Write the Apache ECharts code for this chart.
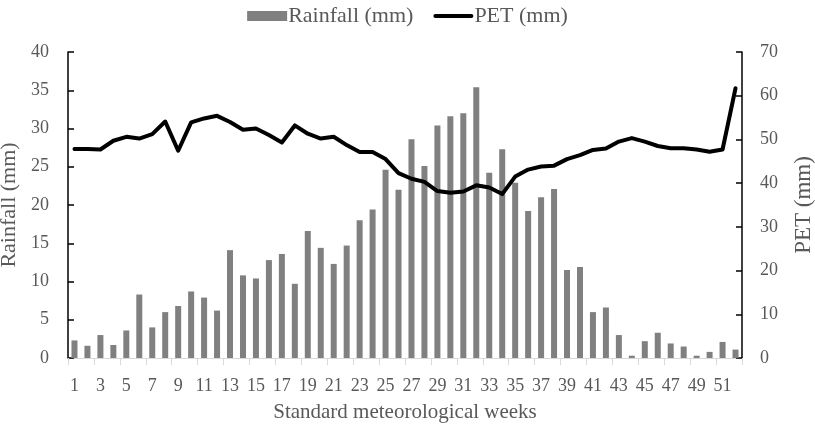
<!DOCTYPE html>
<html>
<head>
<meta charset="utf-8">
<script src="https://cdn.jsdelivr.net/npm/echarts@6/dist/echarts.min.js"></script>
<style>
  html, body { margin: 0; padding: 0; background: #fff; }
  #chart { width: 815px; height: 428px; }
</style>
</head>
<body>
<div id="chart"></div>
<script>
// standard meteorological weeks 1..52
var weeks = [];
for (var w = 1; w <= 52; w++) weeks.push(String(w));

// weekly rainfall (mm)
var rainfall = [
  2.3, 1.6, 3.0, 1.7, 3.6, 8.3, 4.0, 6.0, 6.8, 8.7,
  7.9, 6.2, 14.1, 10.8, 10.4, 12.8, 13.6, 9.7, 16.6, 14.4,
  12.3, 14.7, 18.0, 19.4, 24.6, 22.0, 28.6, 25.1, 30.4, 31.6,
  32.0, 35.4, 24.2, 27.3, 22.9, 19.2, 21.0, 22.1, 11.5, 11.9,
  6.0, 6.6, 3.0, 0.3, 2.2, 3.3, 1.9, 1.5, 0.3, 0.8,
  2.1, 1.1
];

// weekly PET (mm)
var pet = [
  47.8, 47.8, 47.7, 49.7, 50.6, 50.2, 51.2, 54.1, 47.4, 53.9,
  54.8, 55.4, 54.0, 52.2, 52.5, 51.0, 49.3, 53.2, 51.3, 50.2,
  50.6, 48.7, 47.1, 47.1, 45.5, 42.3, 41.0, 40.3, 38.2, 37.8,
  38.1, 39.5, 39.0, 37.5, 41.5, 43.1, 43.8, 44.0, 45.5, 46.4,
  47.6, 47.9, 49.5, 50.3, 49.5, 48.5, 48.0, 48.0, 47.7, 47.2,
  47.7, 61.7
];

var font = 'Liberation Serif';
var txt = '#595959';

var myChart = echarts.init(document.getElementById('chart'));
myChart.setOption({
  animation: false,
  textStyle: { fontFamily: font },
  legend: {
    top: 0,
    left: 'center',
    itemGap: 20,
    itemWidth: 40,
    itemHeight: 10,
    textStyle: { fontFamily: font, fontSize: 22, color: txt, padding: [0, 0, 0, -4] },
    data: [
      { name: 'Rainfall (mm)', icon: 'rect' },
      { name: 'PET (mm)', icon: 'path://M2,0 H38 A2,2 0 0 1 38,4 H2 A2,2 0 0 1 2,0 Z' }
    ]
  },
  grid: { left: 68, right: 73, top: 52, bottom: 70, outerBoundsMode: 'none' },
  xAxis: {
    type: 'category',
    data: weeks,
    name: 'Standard meteorological weeks',
    nameLocation: 'middle',
    nameGap: 44,
    nameTextStyle: { fontFamily: font, fontSize: 21, color: txt },
    axisLine: { lineStyle: { color: '#d9d9d9', width: 1 } },
    axisTick: { show: true, length: 7, lineStyle: { color: '#d9d9d9' } },
    axisLabel: { interval: 1, color: txt, fontSize: 18, fontFamily: font, margin: 19 }
  },
  yAxis: [
    {
      type: 'value',
      min: 0, max: 40, interval: 5,
      name: 'Rainfall (mm)',
      nameLocation: 'middle',
      nameGap: 46,
      nameTextStyle: { fontFamily: font, fontSize: 22, color: txt },
      axisLine: { show: true, lineStyle: { color: '#000', width: 1.5 } },
      axisTick: { show: true, inside: true, length: 6, lineStyle: { color: '#000', width: 1.5 } },
      axisLabel: { color: txt, fontSize: 18, fontFamily: font, margin: 19 },
      splitLine: { show: false }
    },
    {
      type: 'value',
      min: 0, max: 70, interval: 10,
      name: 'PET (mm)',
      nameLocation: 'middle',
      nameGap: 50,
      nameTextStyle: { fontFamily: font, fontSize: 23, color: txt },
      axisLine: { show: true, lineStyle: { color: '#000', width: 1.5 } },
      axisTick: { show: true, inside: true, length: 6, lineStyle: { color: '#000', width: 1.5 } },
      axisLabel: { color: txt, fontSize: 18, fontFamily: font, margin: 18 },
      splitLine: { show: false }
    }
  ],
  series: [
    {
      name: 'Rainfall (mm)',
      type: 'bar',
      data: rainfall,
      yAxisIndex: 0,
      barWidth: 6,
      itemStyle: { color: '#808080' }
    },
    {
      name: 'PET (mm)',
      type: 'line',
      data: pet,
      yAxisIndex: 1,
      symbol: 'none',
      lineStyle: { color: '#000', width: 4, cap: 'round', join: 'round' },
      itemStyle: { color: '#000' }
    }
  ]
});
</script>
</body>
</html>
